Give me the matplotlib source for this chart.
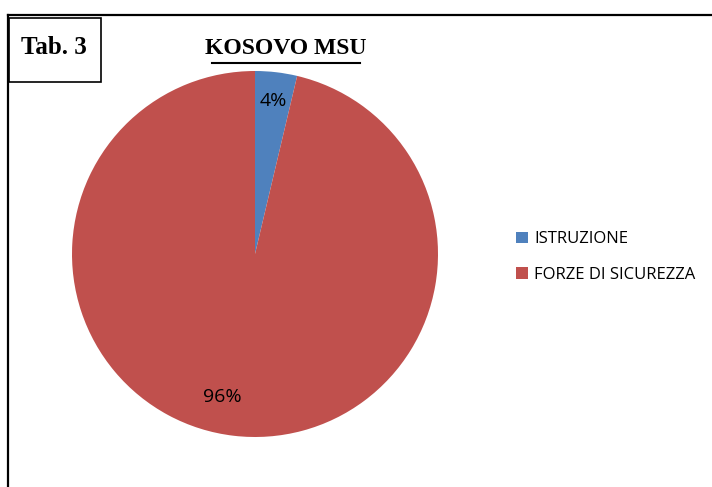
import matplotlib.pyplot as plt
from matplotlib.lines import Line2D
from matplotlib.patches import Rectangle

categories = ['ISTRUZIONE', 'FORZE DI SICUREZZA']
values = [3.7, 96.3]
colors = ['#4F81BD', '#C0504D']

W, H = 712, 487
fig = plt.figure(figsize=(W / 100, H / 100), dpi=100)

# pie axes: centre ~ (255, 254) px, radius ~183 px
r = 183
ax = fig.add_axes([(255 - r) / W, (H - 254 - r) / H, 2 * r / W, 2 * r / H])
wedges, texts, autotexts = ax.pie(values, colors=colors, startangle=90, counterclock=False,
                                  autopct='%1.0f%%', pctdistance=0.84,
                                  textprops={'fontsize': 14, 'family': 'Open Sans', 'color': 'black'})
ax.set_xlim(-1, 1)
ax.set_ylim(-1, 1)
ax.set_aspect('equal')
# excel places the big label a bit further left
autotexts[1].set_position((-0.18, -0.78))

leg = fig.legend(wedges, categories, loc='center left', bbox_to_anchor=(501 / W, 1 - 257 / H),
                 frameon=False, handlelength=0.7, handleheight=0.7, handletextpad=0.4,
                 labelspacing=1.15, prop={'family': 'Open Sans', 'size': 12})

# outer frame (top and left edges)
fig.add_artist(Line2D([8 / W, 1], [1 - 15 / H, 1 - 15 / H], color='black', lw=1.6))
fig.add_artist(Line2D([8 / W, 8 / W], [0, 1 - 15 / H], color='black', lw=1.6))

# "Tab. 3" box
fig.add_artist(Rectangle((9 / W, 1 - 82 / H), 92 / W, 64 / H, fill=False, ec='black', lw=1.2))
fig.text(54 / W, 1 - 48 / H, 'Tab. 3', ha='center', va='center', fontsize=18,
         fontweight='bold', family='Liberation Serif')

# title with underline
fig.text(286 / W, 1 - 49 / H, 'KOSOVO MSU', ha='center', va='center', fontsize=17,
         fontweight='bold', family='Liberation Serif')
fig.add_artist(Line2D([212 / W, 360 / W], [1 - 63 / H, 1 - 63 / H], color='black', lw=1.5))

fig.savefig('out.png', dpi=100)
